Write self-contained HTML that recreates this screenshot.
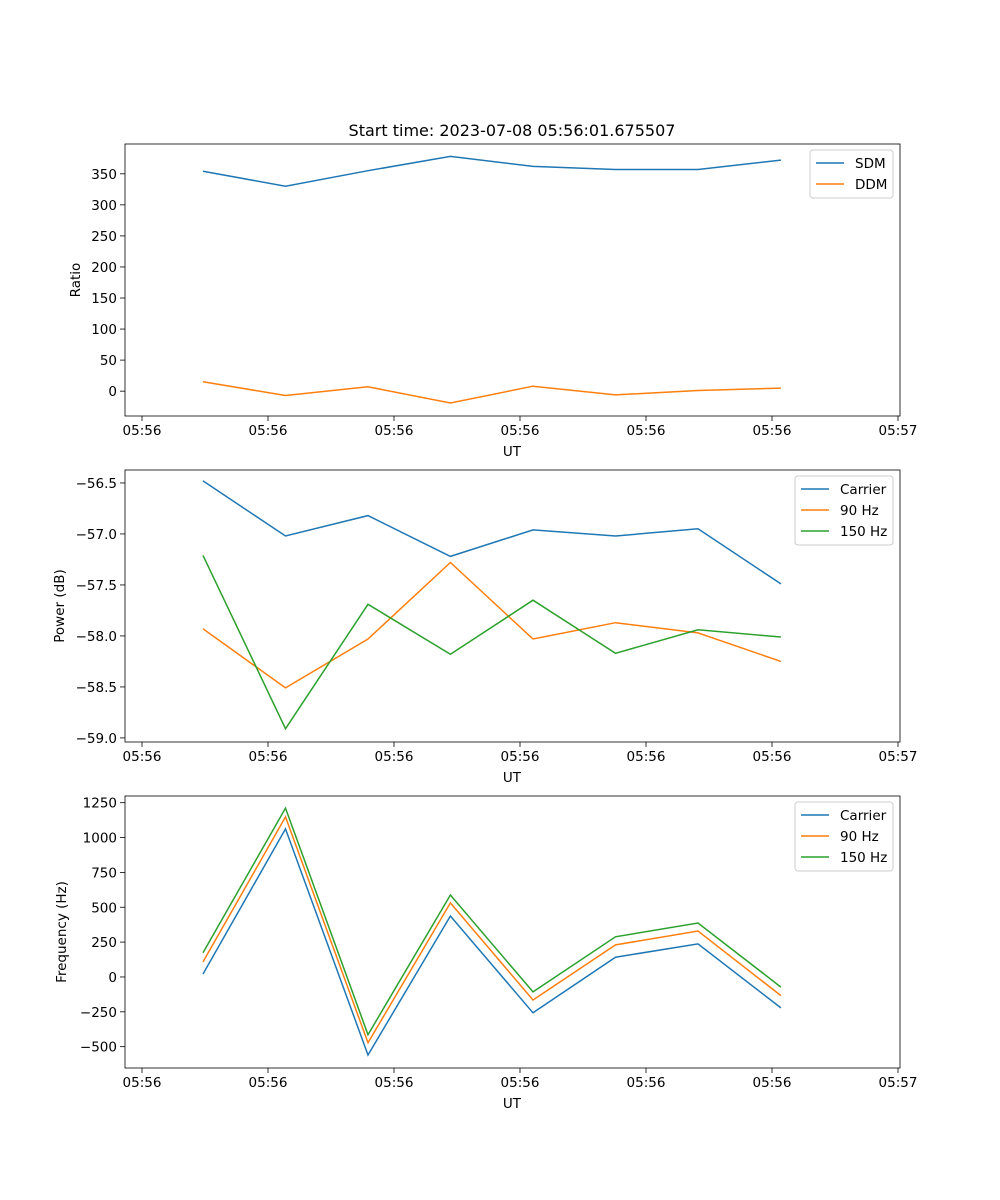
<!DOCTYPE html>
<html><head><meta charset="utf-8"><style>
body{margin:0;background:#fff}
svg{display:block;font-family:"DejaVu Sans","Liberation Sans",sans-serif}
</style></head><body>
<svg id="fig" width="1000" height="1200" xmlns="http://www.w3.org/2000/svg">
<rect width="1000" height="1200" fill="#fff"/>
<text x="512" y="136" text-anchor="middle" font-size="16">Start time: 2023-07-08 05:56:01.675507</text>
</svg>
<script>
// shared x data (seconds-ish units, arbitrary offset)
const times = [0.484, 1.139, 1.794, 2.448, 3.103, 3.758, 4.413, 5.071];
const xTicks = [0,1,2,3,4,5,6];
const xTickLabels = ["05:56","05:56","05:56","05:56","05:56","05:56","05:57"];
// panel 1
const sdm = [354, 330, 355, 378, 362, 357, 357, 372];
const ddm = [15, -7, 7, -19, 8, -6, 1, 5];
const ratioTicks = [0,50,100,150,200,250,300,350];
// panel 2
const powCarrier = [-56.48, -57.02, -56.82, -57.22, -56.96, -57.02, -56.95, -57.49];
const pow90 = [-57.93, -58.51, -58.03, -57.28, -58.03, -57.87, -57.97, -58.25];
const pow150 = [-57.21, -58.91, -57.69, -58.18, -57.65, -58.17, -57.94, -58.01];
const powTicks = [-59.0,-58.5,-58.0,-57.5,-57.0,-56.5];
// panel 3
const freqCarrier = [21, 1062, -560, 437, -257, 142, 237, -222];
const freq90 = [108, 1148, -472, 531, -165, 230, 330, -134];
const freq150 = [173, 1211, -414, 588, -107, 288, 387, -73];
const freqTicks = [-500,-250,0,250,500,750,1000,1250];

const NS="http://www.w3.org/2000/svg";
const svg=document.getElementById('fig');
const C1="#1f77b4",C2="#ff7f0e",C3="#2ca02c";
function mk(tag,attrs,parent){const e=document.createElementNS(NS,tag);for(const k in attrs)e.setAttribute(k,attrs[k]);(parent||svg).appendChild(e);return e;}
const L=125,R=900;
const xs=t=>142+(t-0)*126;

function panel(top,bot,ymin,ymax,yt,dec,ylabel,ylabelX,series,legendW,name){
  const g=mk('g',{});
  
  
  const ys=v=>bot-(v-ymin)/(ymax-ymin)*(bot-top);
  series.forEach(s=>{
    const pts=times.map((t,i)=>xs(t).toFixed(1)+','+ys(s.data[i]).toFixed(1)).join(' ');
    const p=mk('polyline',{points:pts,fill:'none',stroke:s.color,'stroke-width':1.5},g);
    
    
  });
  const fr=mk('rect',{x:L,y:top,width:R-L,height:bot-top,fill:'none',stroke:'#000','stroke-width':0.8},g);
  
  
  xTicks.forEach((t,i)=>{
    const x=xs(t);
    mk('line',{x1:x,x2:x,y1:bot,y2:bot+5,stroke:'#000','stroke-width':0.8},g);
    const tx=mk('text',{x:x,y:bot+19,'text-anchor':'middle','font-size':13.5},g);
    tx.textContent=xTickLabels[i];
    
    
  });
  const xl=mk('text',{x:512,y:bot+40,'text-anchor':'middle','font-size':13.5},g);
  xl.textContent='UT';
  
  
  yt.forEach(v=>{
    const y=ys(v);
    mk('line',{x1:L-5,x2:L,y1:y,y2:y,stroke:'#000','stroke-width':0.8},g);
    const tx=mk('text',{x:L-8,y:y+5,'text-anchor':'end','font-size':13.5},g);
    tx.textContent=v.toFixed(dec).replace('-','\u2212');
    
    
  });
  const yl=mk('text',{x:ylabelX,y:(top+bot)/2,'text-anchor':'middle','font-size':13.5,transform:`rotate(-90 ${ylabelX} ${(top+bot)/2})`},g);
  yl.textContent=ylabel;
  
  
  const lx=893-legendW, ly=top+6;
  const lg=mk('g',{},g);
  
  
  mk('rect',{x:lx,y:ly,width:legendW,height:6+series.length*21,rx:3,fill:'#fff',stroke:'#ccc','stroke-width':1},lg);
  series.forEach((s,i)=>{
    const yy=ly+13+i*21;
    mk('line',{x1:lx+6,x2:lx+34,y1:yy,y2:yy,stroke:s.color,'stroke-width':1.5},lg);
    const tx=mk('text',{x:lx+45,y:yy+5,'font-size':13.5},lg);
    tx.textContent=s.label;
    
    
  });
}
panel(144,416,-40,398,ratioTicks,0,'Ratio',80,[{data:sdm,color:C1,label:'SDM',key:'sdm'},{data:ddm,color:C2,label:'DDM',key:'ddm'}],83,'ratio-panel');
panel(470,742,-59.04,-56.373,powTicks,1,'Power (dB)',64,[{data:powCarrier,color:C1,label:'Carrier',key:'carrier-power'},{data:pow90,color:C2,label:'90 Hz',key:'90hz-power'},{data:pow150,color:C3,label:'150 Hz',key:'150hz-power'}],98,'power-panel');
panel(796,1068,-653,1298,freqTicks,0,'Frequency (Hz)',66,[{data:freqCarrier,color:C1,label:'Carrier',key:'carrier-freq'},{data:freq90,color:C2,label:'90 Hz',key:'90hz-freq'},{data:freq150,color:C3,label:'150 Hz',key:'150hz-freq'}],98,'frequency-panel');
</script>
</body></html>
